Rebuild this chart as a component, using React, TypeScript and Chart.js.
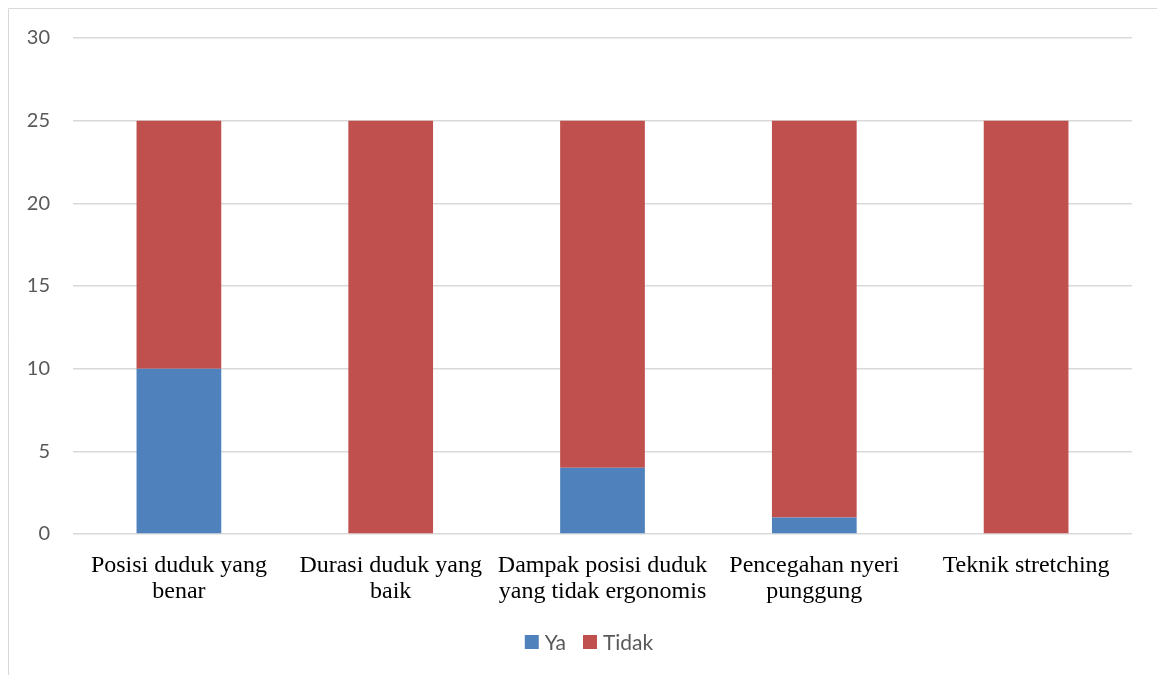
import React, { useEffect, useRef } from "react";
import { Chart, registerables } from "chart.js";

Chart.register(...registerables);

const categories = [
  ["Posisi duduk yang", "benar"],
  ["Durasi duduk yang", "baik"],
  ["Dampak posisi duduk", "yang tidak ergonomis"],
  ["Pencegahan nyeri", "punggung"],
  ["Teknik stretching"],
];
const yaValues = [10, 0, 4, 1, 0];
const tidakValues = [15, 25, 21, 24, 25];
const yTicks = [0, 5, 10, 15, 20, 25, 30];

const frame = {
  id: "frame",
  beforeDraw(chart: any) {
    const ctx = chart.ctx;
    ctx.save();
    ctx.strokeStyle = "#d9d9d9";
    ctx.lineWidth = 1;
    ctx.beginPath();
    ctx.moveTo(8.5, 675);
    ctx.lineTo(8.5, 8.5);
    ctx.lineTo(1157, 8.5);
    ctx.stroke();
    ctx.restore();
  },
};

const customLegend = {
  id: "customLegend",
  afterDraw(chart: any) {
    const ctx = chart.ctx;
    const box = 14;
    const gapText = 6;
    const gapItem = 17;
    const font = "21px Lato";
    ctx.save();
    ctx.font = font;
    const items = chart.data.datasets.map((d: any) => ({
      label: d.label,
      color: d.backgroundColor,
      w: ctx.measureText(d.label).width,
    }));
    let total = 0;
    items.forEach((it: any, i: number) => {
      total += box + gapText + it.w + (i < items.length - 1 ? gapItem : 0);
    });
    const cy = 642;
    let x = 589 - total / 2;
    ctx.textBaseline = "middle";
    ctx.textAlign = "left";
    items.forEach((it: any) => {
      ctx.fillStyle = it.color;
      ctx.fillRect(x, cy - box / 2, box, box);
      x += box + gapText;
      ctx.fillStyle = "#595959";
      ctx.fillText(it.label, x, cy + 1);
      x += it.w + gapItem;
    });
    ctx.restore();
  },
};

export default function App() {
  const ref = useRef<HTMLCanvasElement>(null);
  useEffect(() => {
    const chart = new Chart(ref.current!, {
      type: "bar",
      data: {
        labels: categories,
        datasets: [
          { label: "Ya", data: yaValues, backgroundColor: "#4F81BD", barPercentage: 0.4, categoryPercentage: 1 },
          { label: "Tidak", data: tidakValues, backgroundColor: "#C0504D", barPercentage: 0.4, categoryPercentage: 1 },
        ],
      },
      options: {
        animation: false,
        responsive: false,
        layout: { padding: { top: 38, right: 25, bottom: 52, left: 0 } },
        plugins: {
          tooltip: { enabled: false },
          legend: { display: false },
        },
        scales: {
          x: {
            stacked: true,
            grid: { display: false },
            border: { display: false },
            afterFit: (s: any) => { s.height = 89; },
            ticks: {
              color: "#000",
              padding: 11,
              maxRotation: 0,
              autoSkip: false,
              font: { family: "Liberation Serif", size: 24, lineHeight: 1.08 },
            },
          },
          y: {
            stacked: true,
            min: 0,
            max: 30,
            afterFit: (s: any) => { s.width = 73; },
            afterBuildTicks: (s: any) => { s.ticks = yTicks.map((v) => ({ value: v })); },
            grid: { color: "#d9d9d9", lineWidth: 1.5, drawTicks: false },
            border: { display: false },
            ticks: {
              color: "#595959",
              padding: 23,
              font: { family: "Lato", size: 20 },
            },
          },
        },
      },
      plugins: [frame, customLegend],
    });
    return () => chart.destroy();
  }, []);
  return (
    <canvas
      ref={ref}
      width={1157}
      height={675}
      style={{ position: "fixed", left: 0, top: 0, width: 1157, height: 675 }}
    />
  );
}
